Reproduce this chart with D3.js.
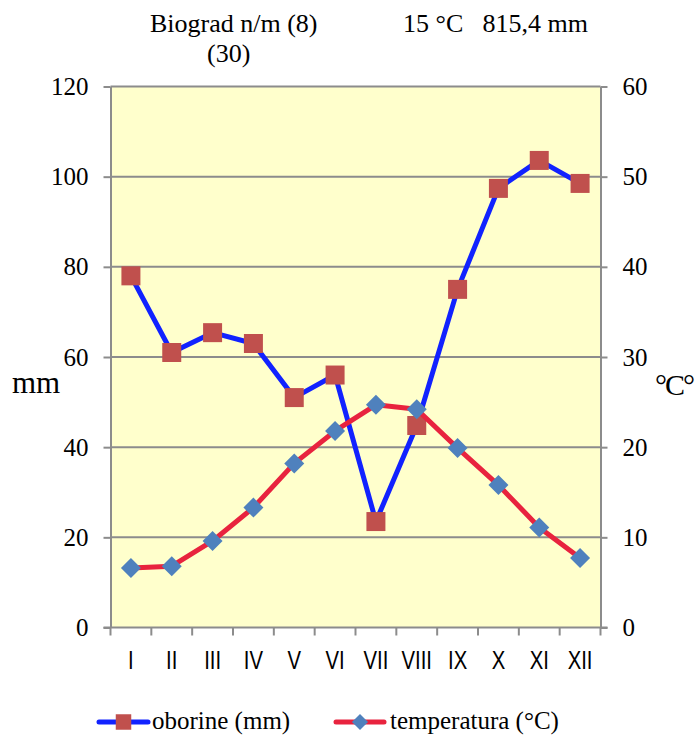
<!DOCTYPE html>
<html>
<head>
<meta charset="utf-8">
<script src="https://cdn.jsdelivr.net/npm/d3@7"></script>
<style>
  html, body { margin: 0; padding: 0; background: #fff; }
  svg { display: block; }
  .serif { font-family: "Liberation Serif", "Times New Roman", serif; fill: #000; }
</style>
</head>
<body>
<div id="main"></div>
<script>
// months on the x axis
const months = ['I', 'II', 'III', 'IV', 'V', 'VI', 'VII', 'VIII', 'IX', 'X', 'XI', 'XII'];
// precipitation (mm), left axis
const oborine = [78, 61, 65.4, 63, 51, 56, 23.5, 44.8, 75, 97.4, 103.6, 98.5];
// mean temperature (°C), right axis
const temperatura = [6.6, 6.8, 9.6, 13.3, 18.2, 21.8, 24.7, 24.2, 19.9, 15.8, 11.1, 7.7];
const mmTicks = [0, 20, 40, 60, 80, 100, 120];
const tempTicks = [0, 10, 20, 30, 40, 50, 60];

const W = 698, H = 738;
const pLeft = 110.5, pRight = 600.5, pTop = 86.5, pBottom = 627.5;

let svg = d3.select('#main').append('svg').attr('width', W).attr('height', H);

let x = d3.scaleBand().domain(months).range([pLeft, pRight]).padding(0);
let yL = d3.scaleLinear().domain([0, 120]).range([pBottom, pTop]);
let yR = d3.scaleLinear().domain([0, 60]).range([pBottom, pTop]);
let cx = m => x(m) + x.bandwidth() / 2;

// plot background
svg.append('rect')
    .attr('x', pLeft).attr('y', pTop)
    .attr('width', pRight - pLeft).attr('height', pBottom - pTop)
    .style('fill', '#ffffcc');

// horizontal gridlines
svg.append('g').selectAll('line').data(mmTicks.filter(t => t > 0)).join('line')
    .attr('x1', pLeft).attr('x2', pRight)
    .attr('y1', d => yL(d)).attr('y2', d => yL(d))
    .style('stroke', '#8c8c8c').style('stroke-width', '2px');

// left axis
let axL = svg.append('g').attr('transform', `translate(${pLeft},0)`)
    .call(d3.axisLeft(yL).tickValues(mmTicks).tickSize(7).tickSizeOuter(0).tickPadding(15));
// right axis
let axR = svg.append('g').attr('transform', `translate(${pRight},0)`)
    .call(d3.axisRight(yR).tickValues(tempTicks).tickSize(7).tickSizeOuter(0).tickPadding(15));

[axL, axR].forEach(a => {
    a.select('.domain').style('stroke', '#8c8c8c').style('stroke-width', '2px');
    a.selectAll('.tick line').style('stroke', '#8c8c8c').style('stroke-width', '2px');
    a.selectAll('.tick text').classed('serif', true)
        .style('font-size', '25px').attr('fill', '#000');
});

// bottom axis line and category ticks
svg.append('line')
    .attr('x1', pLeft - 7).attr('x2', pRight + 7)
    .attr('y1', pBottom).attr('y2', pBottom)
    .style('stroke', '#8c8c8c').style('stroke-width', '2px');

let bounds = months.map(m => x(m)).concat([pRight]);
svg.append('g').selectAll('line').data(bounds).join('line')
    .attr('x1', d => d).attr('x2', d => d)
    .attr('y1', pBottom).attr('y2', pBottom + 8)
    .style('stroke', '#8c8c8c').style('stroke-width', '2px');

svg.append('g').selectAll('text').data(months).join('text')
    .attr('transform', d => `translate(${cx(d)},669) scale(0.78,1)`)
    .style('text-anchor', 'middle')
    .style('font-family', '"Liberation Sans", Arial, sans-serif')
    .style('font-size', '26px')
    .text(d => d);

// precipitation line + squares
let lineL = d3.line().x((d, i) => cx(months[i])).y(d => yL(d));
svg.append('path').datum(oborine)
    .attr('d', lineL)
    .style('fill', 'none').style('stroke', '#1122ff').style('stroke-width', '5px')
    .style('stroke-linejoin', 'round');

let square = d3.symbol().type(d3.symbolSquare).size(361);
svg.append('g').selectAll('path').data(oborine).join('path')
    .attr('d', square)
    .attr('transform', (d, i) => `translate(${cx(months[i])},${yL(d)})`)
    .style('fill', '#c0504d');

// temperature line + diamonds
let lineR = d3.line().x((d, i) => cx(months[i])).y(d => yR(d));
svg.append('path').datum(temperatura)
    .attr('d', lineR)
    .style('fill', 'none').style('stroke', '#e8233e').style('stroke-width', '5px')
    .style('stroke-linejoin', 'round');

let diamond = d3.symbol().type(d3.symbolSquare).size(200);
svg.append('g').selectAll('path').data(temperatura).join('path')
    .attr('d', diamond)
    .attr('transform', (d, i) => `translate(${cx(months[i])},${yR(d)}) rotate(45)`)
    .style('fill', '#4f81bd');

// titles
let title = svg.append('g').classed('serif', true).style('font-size', '26px');
title.append('text').attr('x', 150).attr('y', 32).text('Biograd n/m (8)');
title.append('text').attr('x', 207).attr('y', 62).text('(30)');
title.append('text').attr('x', 403).attr('y', 32).text('15 °C');
title.append('text').attr('x', 588).attr('y', 32).style('text-anchor', 'end').text('815,4 mm');

// axis titles
svg.append('text').classed('serif', true).style('font-size', '31px')
    .attr('x', 12).attr('y', 393).text('mm');
svg.append('text').classed('serif', true).style('font-size', '30px')
    .style('letter-spacing', '-2px')
    .attr('x', 655).attr('y', 395).text('°C°');

// legend
let legend = svg.append('g');
legend.append('line').attr('x1', 99).attr('x2', 148).attr('y1', 722).attr('y2', 722)
    .style('stroke', '#1122ff').style('stroke-width', '5px').style('stroke-linecap', 'round');
legend.append('path').attr('d', d3.symbol().type(d3.symbolSquare).size(240))
    .attr('transform', 'translate(123.5,722)').style('fill', '#c0504d');
legend.append('text').classed('serif', true).style('font-size', '25px')
    .attr('x', 152).attr('y', 729).text('oborine (mm)');

legend.append('line').attr('x1', 336).attr('x2', 384).attr('y1', 722).attr('y2', 722)
    .style('stroke', '#e8233e').style('stroke-width', '5px').style('stroke-linecap', 'round');
legend.append('path').attr('d', d3.symbol().type(d3.symbolSquare).size(130))
    .attr('transform', 'translate(360,722) rotate(45)').style('fill', '#4f81bd');
legend.append('text').classed('serif', true).style('font-size', '25px')
    .attr('x', 390).attr('y', 729).text('temperatura (°C)');
</script>
</body>
</html>
